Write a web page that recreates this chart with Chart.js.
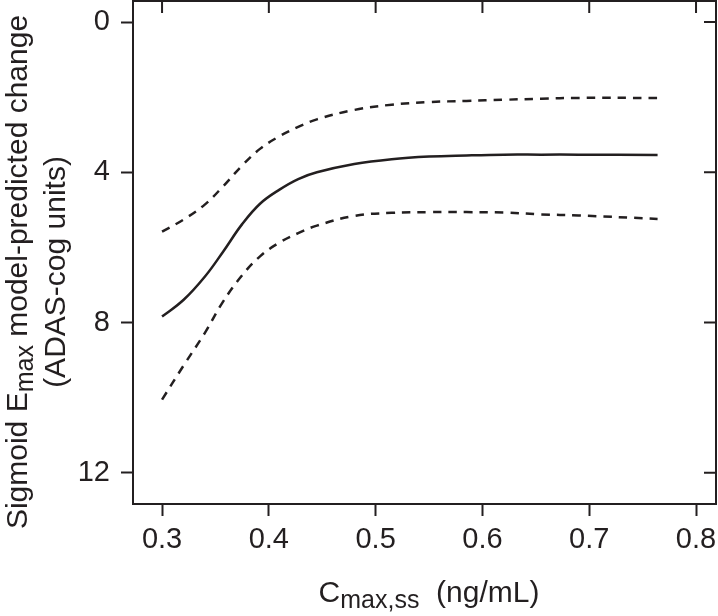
<!DOCTYPE html>
<html>
<head>
<meta charset="utf-8">
<script src="https://cdn.jsdelivr.net/npm/chart.js@4.4.1/dist/chart.umd.min.js"></script>
<style>
  html, body { margin: 0; padding: 0; background: #fff; }
  #wrap { width: 718px; height: 616px; }
</style>
</head>
<body>
<div id="wrap"><canvas id="chart" width="718" height="616"></canvas></div>
<script>
// Cmax,ss (ng/mL) sample points
const conc = [0.30, 0.32, 0.34, 0.357, 0.375, 0.392, 0.41, 0.4275, 0.445, 0.48, 0.515, 0.55, 0.585, 0.62, 0.655, 0.69, 0.764];
// model-predicted change (median) and the two dashed bounds
const median = [7.84, 7.40, 6.78, 6.12, 5.38, 4.83, 4.46, 4.18, 4.00, 3.78, 3.65, 3.58, 3.55, 3.53, 3.53, 3.53, 3.54];
const upperBound = [5.58, 5.26, 4.86, 4.38, 3.82, 3.37, 3.04, 2.79, 2.59, 2.34, 2.20, 2.13, 2.10, 2.07, 2.04, 2.02, 2.02];
const lowerBound = [10.05, 9.15, 8.28, 7.45, 6.74, 6.23, 5.87, 5.62, 5.42, 5.16, 5.08, 5.06, 5.06, 5.07, 5.12, 5.15, 5.24];

const xTicks = [0.3, 0.4, 0.5, 0.6, 0.7, 0.8];
const yTicks = [0, 4, 8, 12];

const ink = '#231f20';
const fontFamily = '"Liberation Sans", Arial, Helvetica, sans-serif';

function toPoints(ys) {
    return conc.map((x, i) => ({ x: x, y: ys[i] }));
}

// draws a row of text runs (normal + subscript) centred on (cx, cy)
function drawRuns(ctx, runs, cx, cy, rotated) {
    ctx.save();
    ctx.translate(cx, cy);
    if (rotated) ctx.rotate(-Math.PI / 2);
    let total = 0;
    runs.forEach((r) => {
        ctx.font = r.size + 'px ' + fontFamily;
        r.w = ctx.measureText(r.t).width;
        total += r.w;
    });
    let x = -total / 2;
    ctx.fillStyle = ink;
    ctx.textBaseline = 'alphabetic';
    ctx.textAlign = 'left';
    runs.forEach((r) => {
        ctx.font = r.size + 'px ' + fontFamily;
        ctx.fillText(r.t, x, r.dy);
        x += r.w;
    });
    ctx.restore();
}

// keep the plot box where the reference has it; labels may overhang
function noLabelPadding(s) {
    s.paddingLeft = 0;
    s.paddingRight = 0;
    s.paddingTop = 0;
    s.paddingBottom = 0;
}

const frame = {
    id: 'frame',
    afterDraw(chart) {
        const ctx = chart.ctx;
        const a = chart.chartArea;
        const xs = chart.scales.x;
        const ys = chart.scales.y;
        ctx.save();
        ctx.strokeStyle = ink;
        ctx.lineWidth = 2;
        ctx.strokeRect(a.left, a.top, a.right - a.left, a.bottom - a.top);
        // inward ticks on top and right edges
        ctx.beginPath();
        xTicks.forEach((v) => {
            const px = xs.getPixelForValue(v);
            ctx.moveTo(px, a.top);
            ctx.lineTo(px, a.top + 12);
        });
        yTicks.forEach((v) => {
            const py = ys.getPixelForValue(v);
            ctx.moveTo(a.right, py);
            ctx.lineTo(a.right - 12, py);
        });
        ctx.stroke();
        ctx.restore();

        // axis titles
        drawRuns(ctx, [
            { t: 'C', size: 30, dy: 0 },
            { t: 'max,ss', size: 25, dy: 6 },
            { t: '  (ng/mL)', size: 30, dy: 0 },
        ], 429, 602, false);
        drawRuns(ctx, [
            { t: 'Sigmoid E', size: 30, dy: 0 },
            { t: 'max', size: 25, dy: 6 },
            { t: ' model-predicted change', size: 30, dy: 0 },
        ], 27, 272, true);
        drawRuns(ctx, [
            { t: '(ADAS-cog units)', size: 30, dy: 0 },
        ], 65, 272, true);
    },
};

const lineStyle = {
    showLine: true,
    pointRadius: 0,
    borderColor: ink,
    borderWidth: 2.5,
    tension: 0.4,
    fill: false,
};

new Chart(document.getElementById('chart'), {
    type: 'scatter',
    data: {
        datasets: [
            { ...lineStyle, label: 'median', data: toPoints(median) },
            { ...lineStyle, label: 'upper', data: toPoints(upperBound), borderDash: [8.5, 7] },
            { ...lineStyle, label: 'lower', data: toPoints(lowerBound), borderDash: [8.5, 7] },
        ],
    },
    options: {
        responsive: false,
        animation: false,
        events: [],
        layout: { padding: { top: 1, right: 2, left: 0, bottom: 0 } },
        plugins: {
            legend: { display: false },
            tooltip: { enabled: false },
        },
        scales: {
            x: {
                type: 'linear',
                min: 0.2728,
                max: 0.8187,
                afterBuildTicks: (s) => { s.ticks = xTicks.map((v) => ({ value: v })); },
                afterFit: (s) => { s.height = 112; noLabelPadding(s); },
                border: { display: false },
                grid: { drawOnChartArea: false, tickLength: 12, tickWidth: 2, tickColor: ink },
                ticks: {
                    color: ink,
                    padding: 7,
                    maxRotation: 0,
                    autoSkip: false,
                    font: { family: fontFamily, size: 29 },
                    callback: (v) => v.toFixed(1),
                },
            },
            y: {
                type: 'linear',
                reverse: true,
                min: -0.56,
                max: 12.83,
                afterBuildTicks: (s) => { s.ticks = yTicks.map((v) => ({ value: v })); },
                afterFit: (s) => { s.width = 133; noLabelPadding(s); },
                border: { display: false },
                grid: { drawOnChartArea: false, tickLength: 12, tickWidth: 2, tickColor: ink },
                ticks: {
                    color: ink,
                    padding: 11,
                    autoSkip: false,
                    font: { family: fontFamily, size: 29 },
                    callback: (v) => String(v),
                },
            },
        },
    },
    plugins: [frame],
});
</script>
</body>
</html>
